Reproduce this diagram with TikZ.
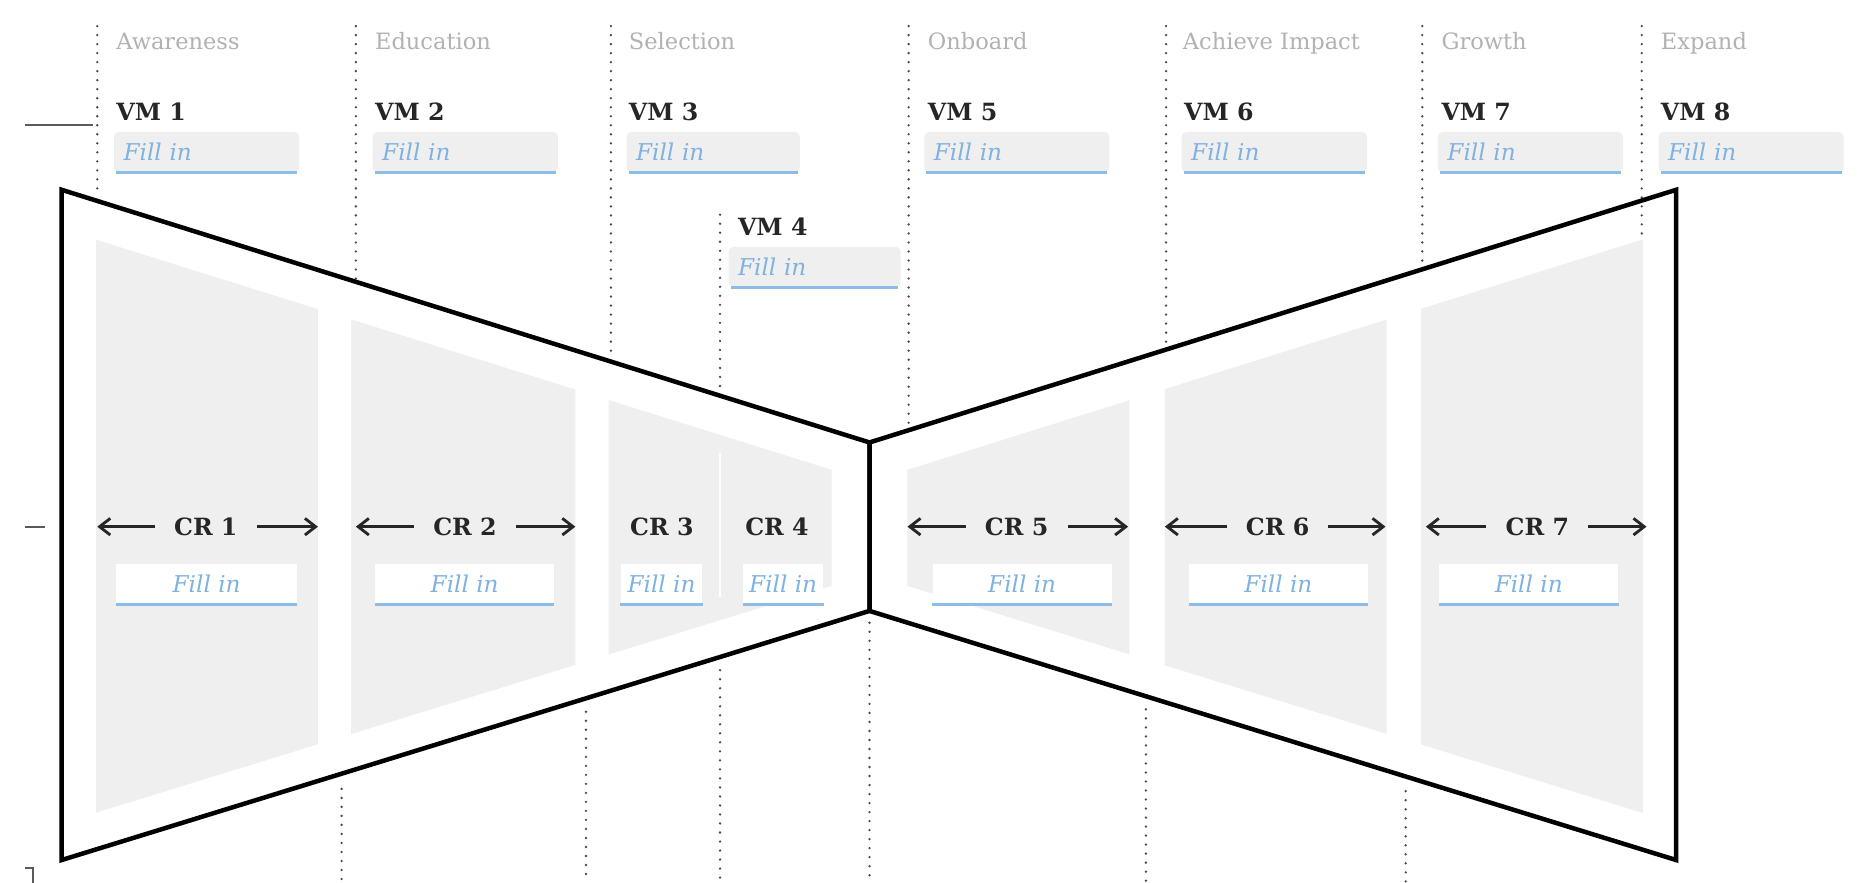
\documentclass[tikz,border=0pt]{standalone}
\usepackage{fontspec}
\setmainfont{DejaVu Serif}
\usetikzlibrary{arrows.meta}
\definecolor{stagegray}{HTML}{B2B2B2}
\definecolor{inkdark}{HTML}{262626}
\definecolor{fillblue}{HTML}{7FB2E0}
\definecolor{lineblue}{HTML}{8CBDE8}
\definecolor{boxgray}{HTML}{EFEFEF}
\definecolor{panelgray}{HTML}{EFEFEF}
\definecolor{dotgray}{HTML}{4A4A4A}
\definecolor{margingray}{HTML}{5A5A5A}
\newcommand\stagefnt{\fontsize{19}{23}\selectfont}
\newcommand\vmfnt{\fontsize{20}{24}\selectfont\bfseries}
\newcommand\fillfnt{\fontsize{19.5}{23}\selectfont\itshape}
\newcommand\crfnt{\fontsize{20}{24}\selectfont\bfseries}
\tikzset{
  stage/.style={font=\stagefnt, text=stagegray, anchor=base west, inner sep=0pt},
  vmlabel/.style={font=\vmfnt, text=inkdark, anchor=base west, inner sep=0pt},
  vmbox/.style={fill=boxgray, rounded corners=4pt, minimum height=34pt, inner xsep=8pt, inner ysep=0pt, align=left, font=\fillfnt, text=fillblue, anchor=north west},
  crbox/.style={fill=white, minimum height=34pt, inner sep=0pt, font=\fillfnt, text=fillblue, anchor=north west},
  uline/.style={draw=lineblue, line width=2.2pt},
  crlabel/.style={font=\crfnt, text=inkdark, inner xsep=16pt, inner ysep=0pt},
  crarrow/.style={draw=inkdark, line width=2.4pt, -{Straight Barb[length=9pt,width=14pt]}},
  outline/.style={draw=black, line width=3.8pt, line join=miter},
  panel/.style={fill=panelgray},
  dotline/.style={draw=dotgray, line width=2.2pt, line cap=round, dash pattern=on 0pt off 7.6pt},
  marginline/.style={draw=margingray, line width=1.6pt}
}
\begin{document}
\begin{tikzpicture}[x=1pt,y=-1pt]
\useasboundingbox (0,0) rectangle (1568,744);
\fill[white] (0,0) rectangle (1568,744);

% dotted column lines (top parts)
\draw[dotline] (82,22) -- (82,166);
\draw[dotline] (300,22) -- (300,235);
\draw[dotline] (515,22) -- (515,302);
\draw[dotline] (607,181) -- (607,331);
\draw[dotline] (766,22) -- (766,360);
\draw[dotline] (983,22) -- (983,292);
\draw[dotline] (1199,22) -- (1199,220);
\draw[dotline] (1384,22) -- (1384,219);
% dotted column lines (bottom parts)
\draw[dotline] (288,665) -- (288,744);
\draw[dotline] (494,600) -- (494,744);
\draw[dotline] (607,565) -- (607,744);
\draw[dotline] (733,525) -- (733,744);
\draw[dotline] (966,598) -- (966,744);
\draw[dotline] (1185,667) -- (1185,744);

% margin marks
\draw[marginline] (21,105) -- (78,105);
\draw[marginline] (21,444) -- (38,444);
\draw[marginline] (21,731.5) -- (28,731.5) -- (28,744);

% grey panels
\fill[panel] (81,202.1) -- (268,260.6) -- (268,627.4) -- (81,685.1) -- cycle;
\fill[panel] (296,269.3) -- (485,328.4) -- (485,560.5) -- (296,618.8) -- cycle;
\fill[panel] (513,337.2) -- (701,396) -- (701,493.9) -- (513,551.8) -- cycle;
\draw[white, line width=1.5pt] (607,382) -- (607,503);
\fill[panel] (765,396) -- (952,337.4) -- (952,551.6) -- (765,493.9) -- cycle;
\fill[panel] (982,328) -- (1169,269.4) -- (1169,618.6) -- (982,560.9) -- cycle;
\fill[panel] (1198,260.3) -- (1385,201.8) -- (1385,685.4) -- (1198,627.6) -- cycle;

% bow-tie outline
\coordinate (tl) at (52,160);
\coordinate (bl) at (52,725);
\coordinate (tr) at (1413,160);
\coordinate (br) at (1413,725);
\coordinate (ct) at (733,373);
\coordinate (cb) at (733,515);
\draw[outline] (tl) -- (ct) -- (cb) -- (bl) -- cycle;
\draw[outline] (tr) -- (ct) -- (cb) -- (br) -- cycle;

% stage headings
\node[stage] (s1) at (98,41.5) {Awareness};
\node[stage] (s2) at (316,41.5) {Education};
\node[stage] (s3) at (530,41.5) {Selection};
\node[stage] (s5) at (782,41.5) {Onboard};
\node[stage] (s6) at (997,41.5) {Achieve Impact};
\node[stage] (s7) at (1215,41.5) {Growth};
\node[stage] (s8) at (1400,41.5) {Expand};

% VM labels
\node[vmlabel] (vm1) at (98,102) {VM 1};
\node[vmlabel] (vm2) at (316,102) {VM 2};
\node[vmlabel] (vm3) at (530,102) {VM 3};
\node[vmlabel] (vm4) at (622,198.7) {VM 4};
\node[vmlabel] (vm5) at (782,102) {VM 5};
\node[vmlabel] (vm6) at (998,102) {VM 6};
\node[vmlabel] (vm7) at (1215,102) {VM 7};
\node[vmlabel] (vm8) at (1400,102) {VM 8};

% VM fill-in boxes
\node[vmbox, text width=140pt] (vf1) at (96,111) {Fill in};
\node[vmbox, text width=140pt] (vf2) at (314,111) {Fill in};
\node[vmbox, text width=130pt] (vf3) at (528,111) {Fill in};
\node[vmbox, text width=129pt] (vf4) at (614,208) {Fill in};
\node[vmbox, text width=140pt] (vf5) at (779,111) {Fill in};
\node[vmbox, text width=140pt] (vf6) at (996,111) {Fill in};
\node[vmbox, text width=140pt] (vf7) at (1212,111) {Fill in};
\node[vmbox, text width=140pt] (vf8) at (1398,111) {Fill in};
\foreach \b in {vf1,vf2,vf3,vf4,vf5,vf6,vf7,vf8}
  \draw[uline] ([xshift=2pt]\b.south west) -- ([xshift=-2pt]\b.south east);

% CR labels
\node[crlabel] (cr1) at (173.5,444) {CR 1};
\node[crlabel] (cr2) at (392,444) {CR 2};
\node[crlabel] (cr3) at (558,444) {CR 3};
\node[crlabel] (cr4) at (655,444) {CR 4};
\node[crlabel] (cr5) at (857,444) {CR 5};
\node[crlabel] (cr6) at (1077,444) {CR 6};
\node[crlabel] (cr7) at (1296,444) {CR 7};

% CR arrow end points
\coordinate (a1l) at (82,444);   \coordinate (a1r) at (268,444);
\coordinate (a2l) at (300,444);  \coordinate (a2r) at (485,444);
\coordinate (a5l) at (765,444);  \coordinate (a5r) at (951,444);
\coordinate (a6l) at (982,444);  \coordinate (a6r) at (1168,444);
\coordinate (a7l) at (1202,444); \coordinate (a7r) at (1388,444);
\draw[crarrow] (cr1.west) -- (a1l);  \draw[crarrow] (cr1.east) -- (a1r);
\draw[crarrow] (cr2.west) -- (a2l);  \draw[crarrow] (cr2.east) -- (a2r);
\draw[crarrow] (cr5.west) -- (a5l);  \draw[crarrow] (cr5.east) -- (a5r);
\draw[crarrow] (cr6.west) -- (a6l);  \draw[crarrow] (cr6.east) -- (a6r);
\draw[crarrow] (cr7.west) -- (a7l);  \draw[crarrow] (cr7.east) -- (a7r);

% CR fill-in boxes
\node[crbox, minimum width=152pt] (cf1) at (98,475) {Fill in};
\node[crbox, minimum width=151pt] (cf2) at (316,475) {Fill in};
\node[crbox, minimum width=69pt] (cf3) at (523,475) {Fill in};
\node[crbox, minimum width=68pt] (cf4) at (626,475) {Fill in};
\node[crbox, minimum width=151pt] (cf5) at (786,475) {Fill in};
\node[crbox, minimum width=151pt] (cf6) at (1002,475) {Fill in};
\node[crbox, minimum width=151pt] (cf7) at (1213,475) {Fill in};
\foreach \b in {cf1,cf2,cf3,cf4,cf5,cf6,cf7}
  \draw[uline] (\b.south west) -- (\b.south east);
\end{tikzpicture}
\end{document}
